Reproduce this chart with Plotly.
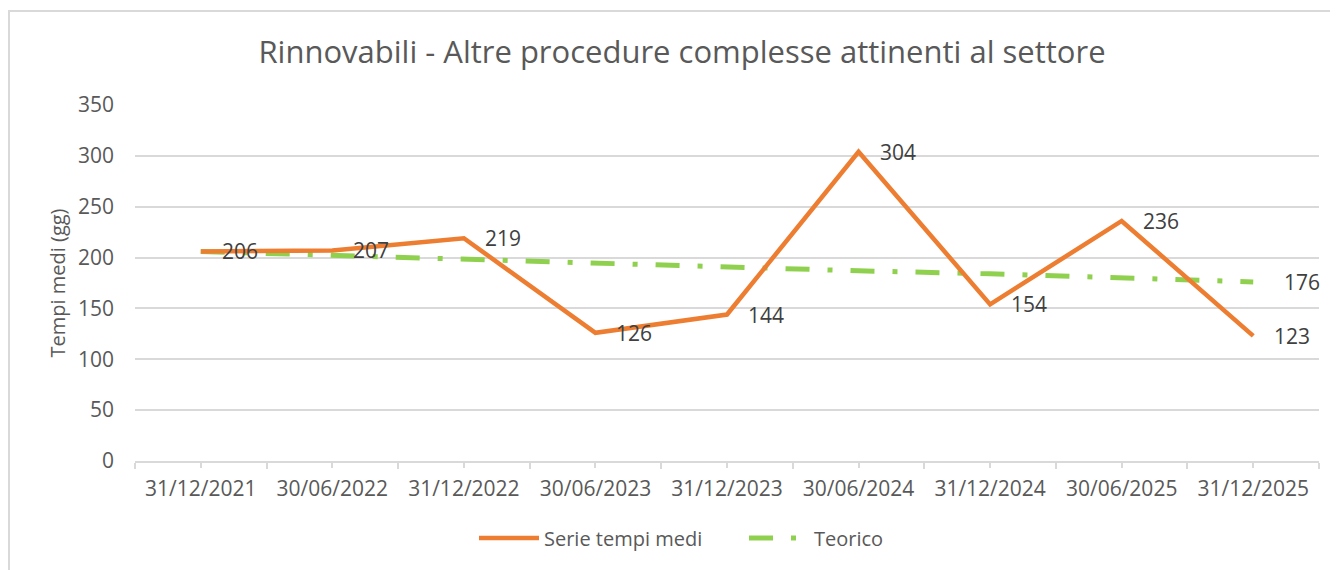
import plotly.graph_objects as go

categories = ["31/12/2021", "30/06/2022", "31/12/2022", "30/06/2023", "31/12/2023",
              "30/06/2024", "31/12/2024", "30/06/2025", "31/12/2025"]
serie_tempi_medi = [206, 207, 219, 126, 144, 304, 154, 236, 123]
teorico = [206, 202, 199, 195, 191, 187, 184, 180, 176]
y_ticks = [0, 50, 100, 150, 200, 250, 300, 350]

FONT = "Open Sans"
TICK_COLOR = "#595959"
LABEL_COLOR = "#404040"
GRID = "#d9d9d9"

W, H = 1330, 562          # page body has an 8px margin
L, R, T, B = 127, 19, 97, 109
PW = W - L - R
PH = H - T - B

fig = go.Figure()
fig.add_trace(go.Scatter(
    x=categories, y=teorico, name="Teorico", mode="lines",
    line=dict(color="#8fd14f", width=5, dash="24px,18px,5px,18px"),
))
fig.add_trace(go.Scatter(
    x=categories, y=serie_tempi_medi, name="Serie tempi medi", mode="lines",
    line=dict(color="#ed7d31", width=4.5),
))
# carrier for the centre tick marks on the overlay axis
fig.add_trace(go.Scatter(
    x=list(range(len(categories))), y=serie_tempi_medi, xaxis="x2", mode="lines",
    line=dict(width=0, color="rgba(0,0,0,0)"), opacity=0, showlegend=False, hoverinfo="skip",
))

annotations = []
for c, v in zip(categories, serie_tempi_medi):
    annotations.append(dict(x=c, y=v, text=str(v), xref="x", yref="y",
                            xanchor="left", yanchor="middle", xshift=19,
                            showarrow=False, font=dict(family=FONT, size=21, color=LABEL_COLOR)))
annotations.append(dict(x=categories[-1], y=teorico[-1], text=str(teorico[-1]), xref="x", yref="y",
                        xanchor="left", yanchor="middle", xshift=29,
                        showarrow=False, font=dict(family=FONT, size=21, color=LABEL_COLOR)))

fig.update_layout(
    width=W, height=H,
    margin=dict(l=L, r=R, t=T, b=B),
    paper_bgcolor="white", plot_bgcolor="white",
    font=dict(family=FONT, size=21, color=TICK_COLOR),
    title=dict(text="Rinnovabili - Altre procedure complesse attinenti al settore",
               x=674 / W, xref="container", xanchor="center",
               y=1 - 44 / H, yref="container", yanchor="middle",
               font=dict(family=FONT, size=31, color=TICK_COLOR)),
    legend=dict(orientation="h", xref="container", yref="container",
                x=466 / W, xanchor="left", y=1 - 530 / H, yanchor="middle",
                itemwidth=60, entrywidth=195, entrywidthmode="pixels",
                font=dict(family=FONT, size=20, color=TICK_COLOR),
                traceorder="reversed", bgcolor="rgba(0,0,0,0)"),
    showlegend=True,
    annotations=annotations,
    xaxis=dict(type="category", categoryarray=categories, categoryorder="array",
               range=[-0.5, len(categories) - 0.5],
               showgrid=False, showline=True, linecolor=GRID, linewidth=1.5,
               ticks="outside", tickson="boundaries", ticklen=6, tickcolor=GRID, tickwidth=1.5,
               ticklabelstandoff=8,
               tickfont=dict(family=FONT, size=21, color=TICK_COLOR), zeroline=False),
    xaxis2=dict(overlaying="x", anchor="y", side="bottom", type="linear",
                range=[-0.5, len(categories) - 0.5],
                tickmode="array", tickvals=list(range(len(categories))),
                showticklabels=False, ticks="outside", ticklen=6, tickcolor=GRID, tickwidth=1.5,
                showgrid=False, showline=False, zeroline=False),
    yaxis=dict(range=[0, 350], tickvals=y_ticks, showgrid=True, gridcolor=GRID, gridwidth=1.5,
               zeroline=False, showline=False, ticks="", ticklabelstandoff=20,
               tickfont=dict(family=FONT, size=21, color=TICK_COLOR),
               title=dict(text="Tempi medi (gg)", standoff=6,
                          font=dict(family=FONT, size=20, color=TICK_COLOR))),
    shapes=[dict(type="rect", xref="paper", yref="paper",
                 x0=(1 - L) / PW, x1=(W + 10 - L) / PW,
                 y0=(T + PH - (H + 10)) / PH, y1=(T + PH - 3) / PH,
                 line=dict(color=GRID, width=2), fillcolor="rgba(0,0,0,0)", layer="below")],
)

fig.write_html("out.html")
